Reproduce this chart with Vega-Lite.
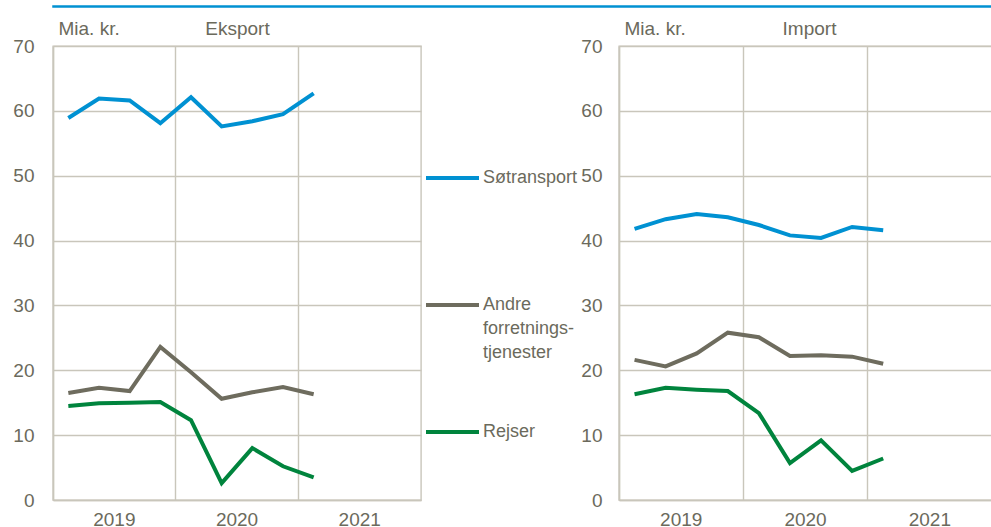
{
  "$schema": "https://vega.github.io/schema/vega-lite/v6.json",
  "background": "white",
  "padding": {"left": 12, "top": 5, "right": 0, "bottom": 0},
  "datasets": {
    "eksport": [
      {"kvartal": "2019K1", "serie": "Søtransport", "value": 58.9},
      {"kvartal": "2019K2", "serie": "Søtransport", "value": 61.9},
      {"kvartal": "2019K3", "serie": "Søtransport", "value": 61.6},
      {"kvartal": "2019K4", "serie": "Søtransport", "value": 58.1},
      {"kvartal": "2020K1", "serie": "Søtransport", "value": 62.1},
      {"kvartal": "2020K2", "serie": "Søtransport", "value": 57.6},
      {"kvartal": "2020K3", "serie": "Søtransport", "value": 58.4},
      {"kvartal": "2020K4", "serie": "Søtransport", "value": 59.5},
      {"kvartal": "2021K1", "serie": "Søtransport", "value": 62.7},
      {"kvartal": "2019K1", "serie": "Andre forretningstjenester", "value": 16.5},
      {"kvartal": "2019K2", "serie": "Andre forretningstjenester", "value": 17.3},
      {"kvartal": "2019K3", "serie": "Andre forretningstjenester", "value": 16.8},
      {"kvartal": "2019K4", "serie": "Andre forretningstjenester", "value": 23.6},
      {"kvartal": "2020K1", "serie": "Andre forretningstjenester", "value": 19.7},
      {"kvartal": "2020K2", "serie": "Andre forretningstjenester", "value": 15.6},
      {"kvartal": "2020K3", "serie": "Andre forretningstjenester", "value": 16.6},
      {"kvartal": "2020K4", "serie": "Andre forretningstjenester", "value": 17.4},
      {"kvartal": "2021K1", "serie": "Andre forretningstjenester", "value": 16.3},
      {"kvartal": "2019K1", "serie": "Rejser", "value": 14.5},
      {"kvartal": "2019K2", "serie": "Rejser", "value": 14.9},
      {"kvartal": "2019K3", "serie": "Rejser", "value": 15.0},
      {"kvartal": "2019K4", "serie": "Rejser", "value": 15.1},
      {"kvartal": "2020K1", "serie": "Rejser", "value": 12.3},
      {"kvartal": "2020K2", "serie": "Rejser", "value": 2.6},
      {"kvartal": "2020K3", "serie": "Rejser", "value": 8.0},
      {"kvartal": "2020K4", "serie": "Rejser", "value": 5.2},
      {"kvartal": "2021K1", "serie": "Rejser", "value": 3.5}
    ],
    "import": [
      {"kvartal": "2019K1", "serie": "Søtransport", "value": 41.8},
      {"kvartal": "2019K2", "serie": "Søtransport", "value": 43.3},
      {"kvartal": "2019K3", "serie": "Søtransport", "value": 44.1},
      {"kvartal": "2019K4", "serie": "Søtransport", "value": 43.6},
      {"kvartal": "2020K1", "serie": "Søtransport", "value": 42.4},
      {"kvartal": "2020K2", "serie": "Søtransport", "value": 40.8},
      {"kvartal": "2020K3", "serie": "Søtransport", "value": 40.4},
      {"kvartal": "2020K4", "serie": "Søtransport", "value": 42.1},
      {"kvartal": "2021K1", "serie": "Søtransport", "value": 41.6},
      {"kvartal": "2019K1", "serie": "Andre forretningstjenester", "value": 21.6},
      {"kvartal": "2019K2", "serie": "Andre forretningstjenester", "value": 20.6},
      {"kvartal": "2019K3", "serie": "Andre forretningstjenester", "value": 22.6},
      {"kvartal": "2019K4", "serie": "Andre forretningstjenester", "value": 25.8},
      {"kvartal": "2020K1", "serie": "Andre forretningstjenester", "value": 25.1},
      {"kvartal": "2020K2", "serie": "Andre forretningstjenester", "value": 22.2},
      {"kvartal": "2020K3", "serie": "Andre forretningstjenester", "value": 22.3},
      {"kvartal": "2020K4", "serie": "Andre forretningstjenester", "value": 22.1},
      {"kvartal": "2021K1", "serie": "Andre forretningstjenester", "value": 21.0},
      {"kvartal": "2019K1", "serie": "Rejser", "value": 16.3},
      {"kvartal": "2019K2", "serie": "Rejser", "value": 17.3},
      {"kvartal": "2019K3", "serie": "Rejser", "value": 17.0},
      {"kvartal": "2019K4", "serie": "Rejser", "value": 16.8},
      {"kvartal": "2020K1", "serie": "Rejser", "value": 13.4},
      {"kvartal": "2020K2", "serie": "Rejser", "value": 5.7},
      {"kvartal": "2020K3", "serie": "Rejser", "value": 9.2},
      {"kvartal": "2020K4", "serie": "Rejser", "value": 4.5},
      {"kvartal": "2021K1", "serie": "Rejser", "value": 6.4}
    ]
  },
  "spacing": 10,
  "vconcat": [
    {
      "width": 945,
      "height": 1,
      "data": {"values": []},
      "mark": "point",
      "encoding": {},
      "view": {"stroke": "#0091D2", "strokeWidth": 1.5}
    },
    {
      "spacing": 1,
      "resolve": {"scale": {"color": "independent"}, "legend": {"color": "independent"}},
      "hconcat": [
        {
          "width": 368,
          "height": 454,
          "data": {"name": "eksport"},
          "mark": {"type": "line", "strokeWidth": 4},
          "encoding": {
            "x": {
              "field": "kvartal", "type": "ordinal", "bandPosition": 0.5,
              "scale": {"type": "band", "paddingInner": 0, "paddingOuter": 0,
                "domain": ["2019K1","2019K2","2019K3","2019K4","2020K1","2020K2","2020K3","2020K4","2021K1","2021K2","2021K3","2021K4"]},
              "axis": {
                "title": "Eksport", "titleX": 184, "titleY": -465.5, "titleAlign": "center", "titleBaseline": "alphabetic",
                "bandPosition": 0, "ticks": false, "labelAngle": 0, "labelOverlap": false, "labelPadding": 10, "labelOffset": -15.3,
                "labelExpr": "slice(datum.value, 4) == 'K3' ? slice(datum.value, 0, 4) : ''",
                "grid": true,
                "gridOpacity": {"condition": {"test": "slice(datum.value, 4) == 'K1'", "value": 1}, "value": 0}
              }
            },
            "y": {
              "field": "value", "type": "quantitative",
              "scale": {"domain": [0, 70], "nice": false},
              "axis": {"title": "Mia. kr.", "values": [0,10,20,30,40,50,60,70], "titleAngle": 0, "titleAlign": "left",
                "titleBaseline": "alphabetic", "titleX": 5, "titleY": -11.5, "ticks": false, "labelPadding": 19}
            },
            "color": {
              "field": "serie", "type": "nominal",
              "scale": {"domain": ["Søtransport", "Andre forretningstjenester", "Rejser"], "range": ["#0091D2", "#6E6C5E", "#00843D"]},
              "legend": {"orient": "none", "legendX": 371, "legendY": 68.5, "title": null, "clipHeight": 127, "rowPadding": 0,
                "labelExpr": "datum.label == 'Andre forretningstjenester' ? ['Andre', 'forretnings-', 'tjenester'] : datum.label",
                "encode": {"labels": {"update": {"lineHeight": {"value": 24}}}}}
            }
          }
        },
        {
          "width": 373,
          "height": 454,
          "data": {"name": "import"},
          "mark": {"type": "line", "strokeWidth": 4},
          "encoding": {
            "x": {
              "field": "kvartal", "type": "ordinal", "bandPosition": 0.5,
              "scale": {"type": "band", "paddingInner": 0, "paddingOuter": 0,
                "domain": ["2019K1","2019K2","2019K3","2019K4","2020K1","2020K2","2020K3","2020K4","2021K1","2021K2","2021K3","2021K4"]},
              "axis": {
                "title": "Import", "titleX": 190, "titleY": -465.5, "titleAlign": "center", "titleBaseline": "alphabetic",
                "bandPosition": 0, "ticks": false, "labelAngle": 0, "labelOverlap": false, "labelPadding": 10, "labelOffset": -15.5,
                "labelExpr": "slice(datum.value, 4) == 'K3' ? slice(datum.value, 0, 4) : ''",
                "grid": true,
                "gridOpacity": {"condition": {"test": "slice(datum.value, 4) == 'K1'", "value": 1}, "value": 0}
              }
            },
            "y": {
              "field": "value", "type": "quantitative",
              "scale": {"domain": [0, 70], "nice": false},
              "axis": {"title": "Mia. kr.", "values": [0,10,20,30,40,50,60,70], "titleAngle": 0, "titleAlign": "left",
                "titleBaseline": "alphabetic", "titleX": 5, "titleY": -11.5, "ticks": false, "labelPadding": 17}
            },
            "color": {
              "field": "serie", "type": "nominal",
              "scale": {"domain": ["Søtransport", "Andre forretningstjenester", "Rejser"], "range": ["#0091D2", "#6E6C5E", "#00843D"]},
              "legend": null
            }
          }
        }
      ]
    }
  ],
  "config": {
    "font": "Liberation Sans",
    "view": {"stroke": "#C9C6BB", "strokeWidth": 1.4},
    "axis": {
      "labelFont": "Liberation Sans", "labelFontSize": 19, "labelColor": "#6B6A5C",
      "titleFont": "Liberation Sans", "titleFontSize": 19, "titleFontWeight": "normal", "titleColor": "#6B6A5C",
      "gridColor": "#C9C6BB", "gridWidth": 1.4, "domainColor": "#C9C6BB", "domainWidth": 1.4
    },
    "legend": {
      "labelFont": "Liberation Sans", "labelFontSize": 18, "labelColor": "#6B6A5C", "labelLimit": 300,
      "symbolType": "stroke", "symbolSize": 2809, "symbolStrokeWidth": 4, "labelOffset": 2
    }
  }
}
